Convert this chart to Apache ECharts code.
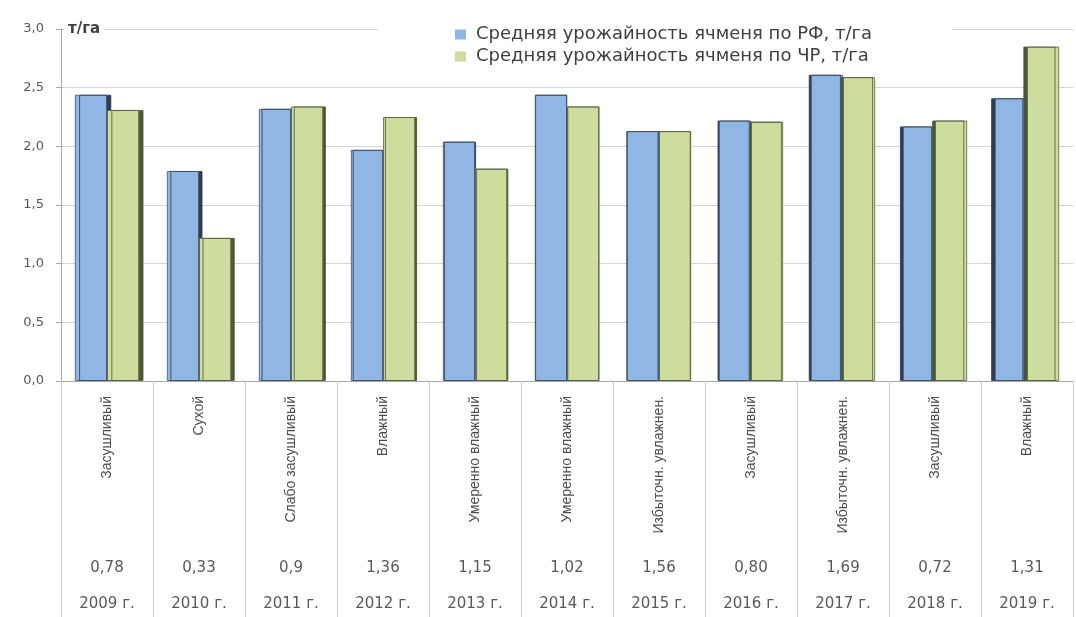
<!DOCTYPE html>
<html>
<head>
<meta charset="utf-8">
<script src="https://cdn.jsdelivr.net/npm/echarts@6/dist/echarts.min.js"></script>
<style>
  html, body { margin: 0; padding: 0; background: #ffffff; }
  #chart { width: 1076px; height: 617px; }
</style>
</head>
<body>
<div id="chart"></div>
<script>
// Погодные условия года (подписи под столбцами)
const conditions = [
  'Засушливый', 'Сухой', 'Слабо засушливый', 'Влажный', 'Умеренно влажный',
  'Умеренно влажный', 'Избыточн. увлажнен.', 'Засушливый', 'Избыточн. увлажнен.',
  'Засушливый', 'Влажный'
];
// ГТК по годам
const coefficients = ['0,78', '0,33', '0,9', '1,36', '1,15', '1,02', '1,56', '0,80', '1,69', '0,72', '1,31'];
const years = ['2009 г.', '2010 г.', '2011 г.', '2012 г.', '2013 г.', '2014 г.', '2015 г.', '2016 г.', '2017 г.', '2018 г.', '2019 г.'];

// Урожайность ячменя, т/га
const yieldRF = [2.44, 1.79, 2.32, 1.97, 2.04, 2.44, 2.13, 2.22, 2.61, 2.17, 2.41];
const yieldCR = [2.31, 1.22, 2.34, 2.25, 1.81, 2.34, 2.13, 2.21, 2.59, 2.22, 2.85];

const seriesNames = [
  'Средняя урожайность ячменя по РФ, т/га',
  'Средняя урожайность ячменя по ЧР, т/га'
];

const blue = '#90b6e4';
const green = '#cddd9e';

// Боковая грань столбца: сдвиг тени уменьшается к середине и меняет сторону
function withDepth(values, sideColor) {
  const mid = (values.length - 1) / 2 + 0.4;
  return values.map((v, i) => ({
    value: v,
    itemStyle: {
      shadowColor: sideColor,
      shadowBlur: 0,
      shadowOffsetX: (mid - i) * 0.8,
      shadowOffsetY: 0
    }
  }));
}

const chart = echarts.init(document.getElementById('chart'), null, { renderer: 'canvas' });

const labelColor = '#595959';
const baseFont = 'DejaVu Sans, Open Sans, sans-serif';

chart.setOption({
  animation: false,
  backgroundColor: '#ffffff',
  title: {
    text: 'т/га',
    left: 64,
    top: 20,
    padding: [2, 4, 2, 4],
    backgroundColor: '#ffffff',
    textStyle: { fontSize: 15, fontWeight: 'bold', color: '#404040', fontFamily: baseFont }
  },
  legend: {
    data: seriesNames,
    orient: 'vertical',
    left: 378,
    top: 20,
    padding: [5, 80, 5, 77],
    backgroundColor: '#ffffff',
    itemWidth: 11,
    itemHeight: 10,
    itemGap: 3,
    icon: 'rect',
    itemStyle: { borderWidth: 0 },
    textStyle: { fontSize: 18, lineHeight: 19, padding: [0, 0, 0, 5], color: '#404040', fontFamily: baseFont }
  },
  grid: { left: 61, right: 3, top: 29, bottom: 236, containLabel: false },
  xAxis: [
    {
      type: 'category',
      data: conditions,
      position: 'bottom',
      axisLine: { lineStyle: { color: '#a6a6a6', width: 1 } },
      axisTick: { show: true, length: 236, lineStyle: { color: '#cfcfcf', width: 1 } },
      axisLabel: {
        rotate: 90,
        margin: 15,
        interval: 0,
        fontSize: 14,
        color: '#4d4d4d',
        fontFamily: 'Liberation Sans Narrow, Liberation Sans, sans-serif'
      }
    },
    {
      type: 'category',
      data: coefficients,
      position: 'bottom',
      offset: 172,
      axisLine: { show: false },
      axisTick: { show: false },
      axisLabel: { interval: 0, margin: 8, fontSize: 15, color: labelColor, fontFamily: baseFont }
    },
    {
      type: 'category',
      data: years,
      position: 'bottom',
      offset: 208,
      axisLine: { show: false },
      axisTick: { show: false },
      axisLabel: { interval: 0, margin: 8, fontSize: 15, color: labelColor, fontFamily: baseFont }
    }
  ],
  yAxis: {
    type: 'value',
    min: 0,
    max: 3,
    interval: 0.5,
    axisLine: { show: true, lineStyle: { color: '#a6a6a6' } },
    axisTick: { show: true, length: 5, lineStyle: { color: '#a6a6a6' } },
    splitLine: { lineStyle: { color: '#d4d4d4', width: 1 } },
    axisLabel: {
      margin: 17,
      fontSize: 13,
      color: labelColor,
      fontFamily: baseFont,
      formatter: v => v.toFixed(1).replace('.', ',')
    }
  },
  series: [
    {
      name: seriesNames[0],
      type: 'bar',
      xAxisIndex: 0,
      data: withDepth(yieldRF, 'rgba(35,50,75,0.95)'),
      barCategoryGap: '30%',
      barGap: '0%',
      itemStyle: { color: blue, borderColor: 'rgba(70,85,100,0.8)', borderWidth: 1 }
    },
    {
      name: seriesNames[1],
      type: 'bar',
      xAxisIndex: 0,
      data: withDepth(yieldCR, 'rgba(70,80,45,0.95)'),
      barCategoryGap: '30%',
      barGap: '0%',
      itemStyle: { color: green, borderColor: 'rgba(90,100,70,0.8)', borderWidth: 1 }
    }
  ]
});
</script>
</body>
</html>
